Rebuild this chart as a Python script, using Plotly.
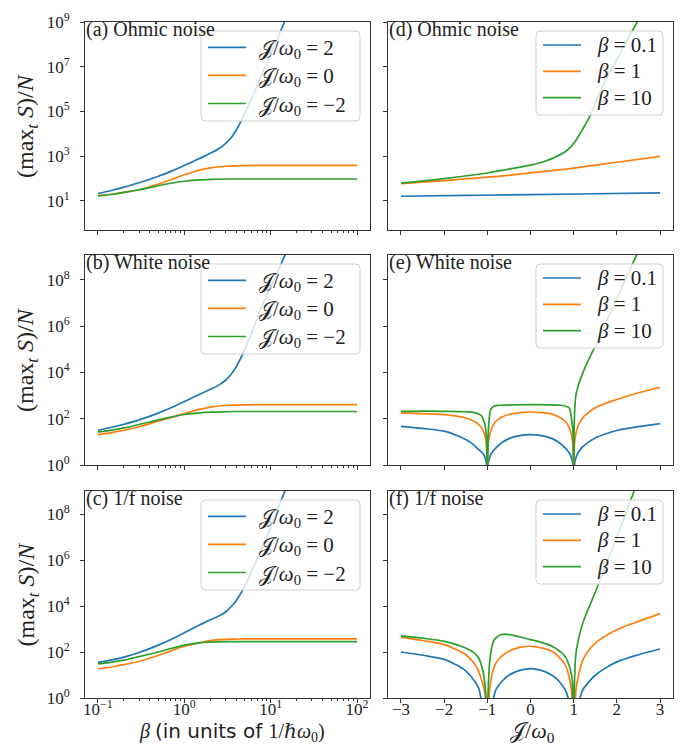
import plotly.graph_objects as go

# ---------------- data (log10 of (max_t S)/N) ----------------
beta_full = [0.1, 0.15, 0.2, 0.3, 0.5, 0.7, 1, 1.5, 2, 3, 4, 5, 7, 10, 15, 20, 30, 50, 100]
beta_blue = [0.1, 0.15, 0.2, 0.3, 0.5, 0.7, 1, 1.5, 2, 2.5, 3, 3.5, 4, 5, 6, 7, 8, 10, 12, 15, 20]

a_J2 = [1.33, 1.49, 1.615, 1.81, 2.1, 2.32, 2.58, 2.9, 3.13, 3.33, 3.56, 3.84, 4.17, 4.9, 5.58, 6.18, 6.7, 7.57, 8.28, 9.15, 10.28]
a_J0 = [1.24, 1.31, 1.38, 1.5, 1.75, 1.95, 2.17, 2.38, 2.48, 2.55, 2.57, 2.58, 2.59, 2.59, 2.59, 2.59, 2.59, 2.59, 2.59]
a_Jm2 = [1.22, 1.3, 1.38, 1.5, 1.68, 1.79, 1.88, 1.94, 1.96, 1.98, 1.98, 1.98, 1.98, 1.98, 1.98, 1.98, 1.98, 1.98, 1.98]

b_J2 = [1.5, 1.64, 1.76, 1.95, 2.24, 2.47, 2.74, 3.06, 3.27, 3.45, 3.66, 3.93, 4.25, 4.97, 5.7, 6.35, 6.9, 7.7, 8.33, 9.15, 10.25]
b_J0 = [1.31, 1.41, 1.5, 1.65, 1.9, 2.05, 2.22, 2.4, 2.5, 2.57, 2.59, 2.6, 2.61, 2.61, 2.61, 2.61, 2.61, 2.61, 2.61]
b_Jm2 = [1.43, 1.52, 1.6, 1.75, 1.95, 2.07, 2.18, 2.25, 2.28, 2.3, 2.31, 2.31, 2.31, 2.31, 2.31, 2.31, 2.31, 2.31, 2.31]

c_J2 = [1.55, 1.67, 1.78, 1.98, 2.3, 2.54, 2.84, 3.17, 3.4, 3.56, 3.74, 3.98, 4.24, 4.85, 5.5, 6.07, 6.57, 7.42, 8.18, 9.1, 10.2]
c_J0 = [1.26, 1.36, 1.45, 1.6, 1.85, 2.05, 2.25, 2.4, 2.5, 2.55, 2.56, 2.57, 2.57, 2.57, 2.57, 2.57, 2.57, 2.57, 2.57]
c_Jm2 = [1.48, 1.57, 1.65, 1.8, 2.0, 2.15, 2.3, 2.4, 2.43, 2.45, 2.45, 2.45, 2.45, 2.45, 2.45, 2.45, 2.45, 2.45, 2.45]

# right column: J/omega_0 grids and values
d_J_b01 = [-3, -1.5, 0, 1.5, 3]
d_b01 = [1.21, 1.245, 1.28, 1.32, 1.36]
d_J_b1 = [-3, -2, -1, 0, 1, 2, 3]
d_b1 = [1.77, 1.91, 2.06, 2.25, 2.47, 2.73, 2.99]
d_J_b10 = [-3, -2, -1, -0.5, 0, 0.3, 0.6, 0.8, 0.95, 1.1, 1.25, 1.4, 1.55, 1.7, 2.1, 2.5, 3]
d_b10 = [1.80, 2.0, 2.25, 2.42, 2.6, 2.75, 2.98, 3.2, 3.45, 3.85, 4.35, 4.88, 5.6, 6.25, 7.7, 9.1, 10.9]

e_J_b01 = [-3, -2.5, -2, -1.75, -1.5, -1.35, -1.2, -1.1, -1.05, -1.02, -1, -0.98, -0.95, -0.9, -0.8, -0.65, -0.5, -0.25, 0,
           0.25, 0.5, 0.65, 0.8, 0.9, 0.95, 0.98, 1, 1.02, 1.05, 1.1, 1.2, 1.35, 1.5, 1.75, 2, 2.5, 3]
e_b01 = [1.67, 1.58, 1.46, 1.31, 1.1, 0.92, 0.66, 0.5, 0.3, 0.05, -1.5, 0.05, 0.3, 0.52, 0.74, 0.98, 1.14, 1.27, 1.31,
         1.27, 1.14, 0.98, 0.74, 0.52, 0.3, 0.05, -1.5, 0.05, 0.3, 0.52, 0.77, 1.0, 1.17, 1.35, 1.49, 1.66, 1.79]
e_J_b1 = [-3, -2.5, -2, -1.75, -1.5, -1.3, -1.2, -1.1, -1.05, -1.02, -1, -0.98, -0.95, -0.9, -0.8, -0.65, -0.5, -0.25, 0,
          0.25, 0.5, 0.65, 0.8, 0.9, 0.95, 0.98, 1, 1.02, 1.05, 1.1, 1.2, 1.3, 1.5, 2, 2.5, 3]
e_b1 = [2.25, 2.22, 2.18, 2.12, 2.03, 1.88, 1.75, 1.5, 1.25, 0.9, -1.5, 0.9, 1.25, 1.58, 1.89, 2.08, 2.18, 2.26, 2.29,
        2.26, 2.2, 2.08, 1.9, 1.6, 1.3, 0.95, -1.5, 0.95, 1.35, 1.68, 2.02, 2.2, 2.47, 2.83, 3.12, 3.36]
e_J_b10 = [-3, -2, -1.5, -1.3, -1.15, -1.1, -1.05, -1.02, -1, -0.98, -0.95, -0.92, -0.85, -0.7, 0,
           0.7, 0.85, 0.9, 0.95, 0.98, 1, 1.01, 1.03, 1.05, 1.09, 1.25, 1.5, 2.0, 2.5, 3]
e_b10 = [2.32, 2.32, 2.3, 2.26, 2.15, 2.0, 1.7, 1.2, -1.5, 1.3, 2.1, 2.4, 2.54, 2.58, 2.61,
         2.58, 2.52, 2.45, 2.0, 1.5, -1.5, 1.5, 2.6, 3.0, 3.33, 4.15, 5.15, 7.2, 9.25, 11.3]

f_J_b01 = [-3, -2.5, -2, -1.75, -1.5, -1.3, -1.2, -1.15, -1.1, -1, -0.9, -0.85, -0.8, -0.65, -0.5, -0.25, 0,
           0.25, 0.5, 0.65, 0.8, 0.87, 0.9, 1, 1.1, 1.15, 1.2, 1.35, 1.5, 1.75, 2, 2.5, 3]
f_b01 = [2.0, 1.86, 1.68, 1.47, 1.18, 0.75, 0.43, 0.02, -0.4, -1.5, -0.4, 0.05, 0.36, 0.75, 0.99, 1.2, 1.28,
         1.2, 0.99, 0.75, 0.36, 0.02, -0.3, -1.5, -0.3, 0.02, 0.32, 0.7, 0.99, 1.32, 1.57, 1.88, 2.13]
f_J_b1 = [-3, -2.5, -2, -1.75, -1.5, -1.3, -1.2, -1.1, -1.05, -1, -0.95, -0.9, -0.8, -0.65, -0.5, -0.25, 0,
          0.25, 0.5, 0.65, 0.8, 0.9, 0.95, 1, 1.05, 1.1, 1.2, 1.3, 1.5, 2, 2.5, 3]
f_b1 = [2.65, 2.5, 2.32, 2.13, 1.88, 1.5, 1.16, 0.58, 0.1, -1.5, 0.3, 0.94, 1.52, 1.85, 2.03, 2.2, 2.25,
        2.18, 2.03, 1.8, 1.45, 0.87, 0.3, -1.5, 0.3, 0.87, 1.59, 1.95, 2.39, 2.97, 3.33, 3.67]
f_J_b10 = [-3, -2.5, -2, -1.5, -1.3, -1.2, -1.1, -1.05, -1.02, -1, -0.98, -0.95, -0.9, -0.85, -0.8, -0.7, -0.6, -0.4, 0,
           0.25, 0.5, 0.7, 0.8, 0.9, 0.95, 0.97, 1, 1.02, 1.05, 1.1, 1.2, 1.3, 1.5, 2.0, 2.4, 3.0]
f_b10 = [2.7, 2.6, 2.46, 2.17, 1.95, 1.74, 1.16, 0.5, -0.3, -1.5, 0.3, 1.45, 2.17, 2.5, 2.61, 2.74, 2.78, 2.72, 2.54,
         2.42, 2.25, 2.0, 1.81, 1.38, 1.0, 0.7, -1.5, 0.8, 1.88, 2.46, 3.19, 3.7, 4.6, 7.0, 9.0, 11.9]

left_names = ["𝒥/<i>ω</i><sub>0</sub> = 2", "𝒥/<i>ω</i><sub>0</sub> = 0", "𝒥/<i>ω</i><sub>0</sub> = −2"]
right_names = ["<i>β</i> = 0.1", "<i>β</i> = 1", "<i>β</i> = 10"]
panel_labels = ["(a) Ohmic noise", "(d) Ohmic noise", "(b) White noise", "(e) White noise",
                "(c) 1/f noise", "(f) 1/f noise"]
y_title = "(max<sub><i>t</i></sub> <i>S</i>)/<i>N</i>"
x_title_left = "<i>β</i> <span style='font-family:DejaVu Sans'>(in units of </span>1/<i>ℏω</i><sub>0</sub>)"
x_title_right = "𝒥/<i>ω</i><sub>0</sub>"

left_y_tickvals = [[1e1, 1e3, 1e5, 1e7, 1e9], [1e0, 1e2, 1e4, 1e6, 1e8], [1e0, 1e2, 1e4, 1e6, 1e8]]
left_y_ticktext = [["10<sup>1</sup>", "10<sup>3</sup>", "10<sup>5</sup>", "10<sup>7</sup>", "10<sup>9</sup>"],
                   ["10<sup>0</sup>", "10<sup>2</sup>", "10<sup>4</sup>", "10<sup>6</sup>", "10<sup>8</sup>"],
                   ["10<sup>0</sup>", "10<sup>2</sup>", "10<sup>4</sup>", "10<sup>6</sup>", "10<sup>8</sup>"]]
beta_tickvals = [0.1, 1, 10, 100]
beta_ticktext = ["10<sup>−1</sup>", "10<sup>0</sup>", "10<sup>1</sup>", "10<sup>2</sup>"]
J_tickvals = [-3, -2, -1, 0, 1, 2, 3]
J_ticktext = ["−3", "−2", "−1", "0", "1", "2", "3"]

# ---------------- figure ----------------
W, H = 689, 745
colors = ["#1f77b4", "#ff7f0e", "#2ca02c"]
SERIF = "Liberation Serif, DejaVu Serif, serif"
TXT = "#222"
col_px = [(77, 362), (380, 665)]
row_px = [(14, 222), (247, 457), (483, 690)]
y_ranges = [[-0.3, 9.0], [0.0, 9.07], [0.0, 9.0]]

# legend geometry (pixels, relative to each panel)
leg_geom = [
    dict(box=(193, 352), top=9, bottom=99, line=(200, 238), text=249, rows=(25.3, 53.3, 81.5), size=21),
    dict(box=(528, 655), top=9, bottom=93, line=(535, 573), text=587, rows=(23.0, 49.3, 75.7), size=21),
]

left_data = [
    (a_J2, a_J0, a_Jm2),
    (b_J2, b_J0, b_Jm2),
    (c_J2, c_J0, c_Jm2),
]
right_data = [
    ((d_J_b01, d_b01), (d_J_b1, d_b1), (d_J_b10, d_b10)),
    ((e_J_b01, e_b01), (e_J_b1, e_b1), (e_J_b10, e_b10)),
    ((f_J_b01, f_b01), (f_J_b1, f_b1), (f_J_b10, f_b10)),
]

fig = go.Figure()
minor_vals = [m * 10 ** e for e in (-1, 0, 1) for m in range(2, 10)]


def px(x):
    return x / W


def py(y):
    return 1 - y / H


def rounded_rect(x0, y0, x1, y1, rad=4):
    X0, X1 = px(x0), px(x1)
    Y0, Y1 = py(y0), py(y1)  # Y0 is top (bigger)
    rx, ry = rad / W, rad / H
    return (f"M {X0 + rx} {Y0} L {X1 - rx} {Y0} Q {X1} {Y0} {X1} {Y0 - ry} "
            f"L {X1} {Y1 + ry} Q {X1} {Y1} {X1 - rx} {Y1} "
            f"L {X0 + rx} {Y1} Q {X0} {Y1} {X0} {Y1 + ry} "
            f"L {X0} {Y0 - ry} Q {X0} {Y0} {X0 + rx} {Y0} Z")


for r in range(3):
    for c in range(2):
        idx = r * 2 + c + 1
        sfx = "" if idx == 1 else str(idx)
        xa, ya = "x" + sfx, "y" + sfx
        if c == 0:
            series = [(beta_blue, left_data[r][0]), (beta_full, left_data[r][1]), (beta_full, left_data[r][2])]
            names = left_names
        else:
            series = right_data[r]
            names = right_names
        for k, (xs, ls) in enumerate(series):
            fig.add_trace(go.Scatter(
                x=xs, y=[10 ** v for v in ls], mode="lines", name=names[k],
                line=dict(color=colors[k], width=1.7, shape="spline", smoothing=1.0),
                xaxis=xa, yaxis=ya, showlegend=False, hoverinfo="skip"))

        x0, x1 = col_px[c]
        y0, y1 = row_px[r]
        xdom = [x0 / W, x1 / W]
        ydom = [1 - y1 / H, 1 - y0 / H]
        common = dict(showline=True, linecolor="#333", linewidth=1, mirror=True, showgrid=False,
                      zeroline=False, ticks="outside", ticklen=4, tickwidth=1, tickcolor="#333",
                      automargin=False,
                      tickfont=dict(family=SERIF, size=17, color=TXT))
        if c == 0:
            xax = dict(common, type="log", range=[-1.15, 2.15], tickmode="array", tickvals=beta_tickvals,
                       ticktext=beta_ticktext if r == 2 else [""] * 4, domain=xdom, anchor=ya,
                       ticklabelstandoff=-8,
                       minor=dict(tickmode="array", tickvals=minor_vals, ticks="outside", ticklen=2,
                                  tickcolor="#333", showgrid=False))
        else:
            xax = dict(common, type="linear", range=[-3.3, 3.3], tickmode="array", tickvals=J_tickvals,
                       ticktext=J_ticktext if r == 2 else [""] * 7, domain=xdom, anchor=ya,
                       ticklabelstandoff=-8)
        yax = dict(common, type="log", range=y_ranges[r], tickmode="array", tickvals=left_y_tickvals[r],
                   ticktext=left_y_ticktext[r] if c == 0 else [""] * 5, domain=ydom, anchor=xa,
                   ticklabelstandoff=7)
        fig.update_layout(**{("xaxis" + sfx): xax, ("yaxis" + sfx): yax})

        # legend drawn as layout decoration in the upper right of the panel
        g = leg_geom[c]
        fig.add_shape(type="path", path=rounded_rect(g["box"][0], y0 + g["top"], g["box"][1], y0 + g["bottom"]),
                      xref="paper", yref="paper", fillcolor="rgba(255,255,255,0.8)",
                      line=dict(color="#d0d0d0", width=1), layer="above")
        for k in range(3):
            yy = y0 + g["rows"][k]
            fig.add_shape(type="line", xref="paper", yref="paper",
                          x0=px(g["line"][0]), x1=px(g["line"][1]), y0=py(yy), y1=py(yy),
                          line=dict(color=colors[k], width=1.7), layer="above")
            fig.add_annotation(text=names[k], xref="paper", yref="paper", x=px(g["text"]), y=py(yy),
                               xanchor="left", yanchor="middle", showarrow=False,
                               yshift=(-2 if c == 0 else 0),
                               font=dict(family=SERIF, size=g["size"], color=TXT))

        fig.add_annotation(text=panel_labels[idx - 1], xref=xa + " domain", yref=ya + " domain",
                           x=0.0, y=1.0, xanchor="left", yanchor="top", showarrow=False,
                           xshift=-1, yshift=6,
                           font=dict(family=SERIF, size=20, color=TXT))

    # y-axis title for the row
    y0, y1 = row_px[r]
    fig.add_annotation(text=y_title, xref="paper", yref="paper", x=19 / W, y=1 - (y0 + y1) / 2 / H,
                       xanchor="center", yanchor="middle", textangle=-90, showarrow=False,
                       font=dict(family=SERIF, size=24, color=TXT))

# x-axis titles
fig.add_annotation(text=x_title_left, xref="paper", yref="paper", x=224 / W, y=1 - 724 / H,
                   xanchor="center", yanchor="middle", showarrow=False,
                   font=dict(family=SERIF, size=20, color=TXT))
fig.add_annotation(text=x_title_right, xref="paper", yref="paper", x=524 / W, y=1 - 724 / H,
                   xanchor="center", yanchor="middle", showarrow=False,
                   font=dict(family=SERIF, size=22, color=TXT))

fig.update_layout(width=W, height=H, margin=dict(l=0, r=0, t=0, b=0), showlegend=False,
                  paper_bgcolor="white", plot_bgcolor="white")

fig.write_html("out.html")
